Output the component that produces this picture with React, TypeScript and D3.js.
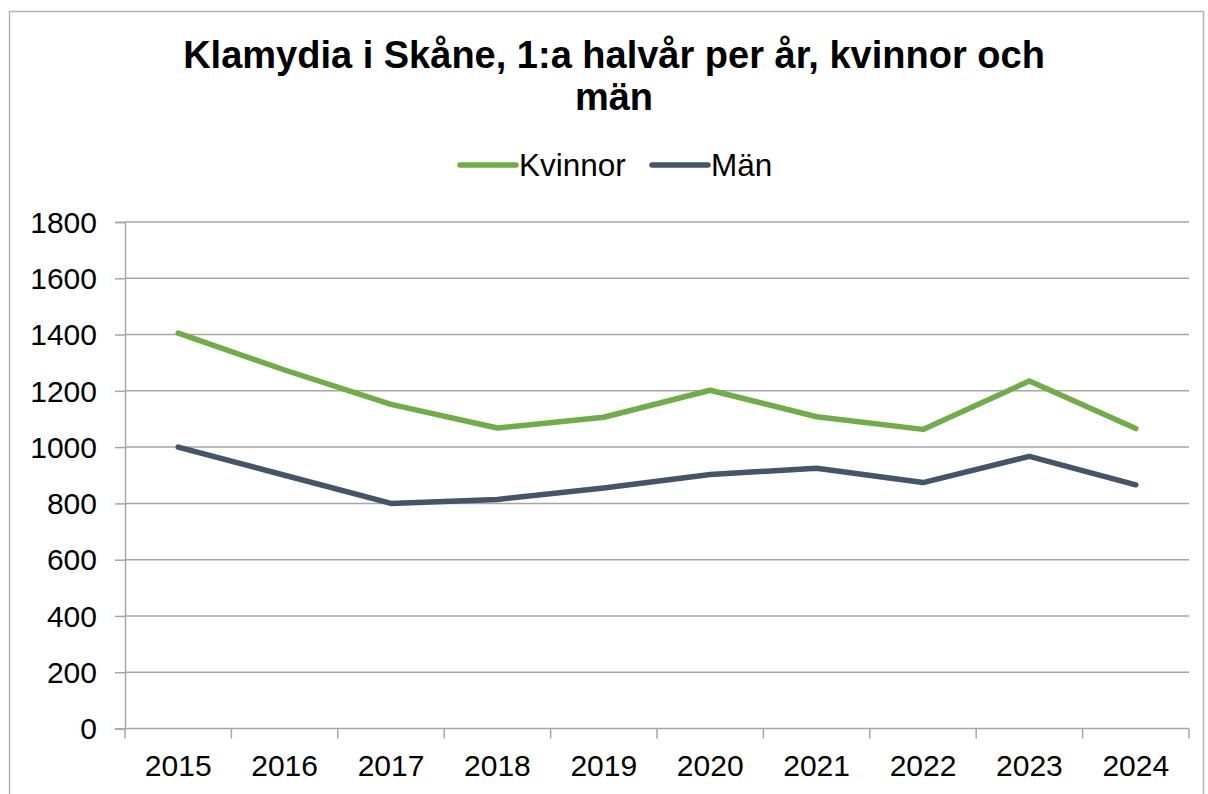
import { useEffect, useRef } from 'react';
import * as d3 from 'd3';

const years = ['2015', '2016', '2017', '2018', '2019', '2020', '2021', '2022', '2023', '2024'];
const kvinnor = [1405, 1274, 1152, 1068, 1106, 1202, 1108, 1063, 1235, 1066];
const man = [1000, 900, 800, 814, 855, 903, 925, 874, 967, 866];
const yTicks = [0, 200, 400, 600, 800, 1000, 1200, 1400, 1600, 1800];
const seriesNames = ['Kvinnor', 'Män'];
const seriesColors = ['#70ad47', '#44546a'];

export default function App() {
  const svgRef = useRef<SVGSVGElement>(null);

  useEffect(() => {
    if (!svgRef.current) return;
    const svg = d3.select(svgRef.current);
    svg.selectAll('*').remove();

    const font = 'Arial, "Liberation Sans", sans-serif';

    // outer chart frame
    svg.append('rect')
      .attr('x', 9.5).attr('y', 11.5)
      .attr('width', 1194).attr('height', 800)
      .attr('fill', '#fff')
      .attr('stroke', '#b3b3b3')
      .attr('stroke-width', 1.5);

    const xScale = d3.scaleBand().domain(years).range([125, 1189]);
    const yScale = d3.scaleLinear().domain([0, 1800]).range([728.5, 222]);

    // gridlines
    svg.append('g')
      .selectAll('line')
      .data(yTicks.filter(t => t > 0))
      .enter()
      .append('line')
      .attr('x1', 125).attr('x2', 1189)
      .attr('y1', d => yScale(d)).attr('y2', d => yScale(d))
      .attr('stroke', '#a6a6a6').attr('stroke-width', 1.5);

    // y axis
    const yAxis = svg.append('g')
      .attr('transform', 'translate(125,0)')
      .call(d3.axisLeft(yScale).tickValues(yTicks).tickSize(10).tickPadding(18).tickFormat(d => String(d)));
    yAxis.select('.domain').attr('stroke', '#a6a6a6').attr('stroke-width', 1.5);
    yAxis.selectAll('.tick line').attr('stroke', '#a6a6a6').attr('stroke-width', 1.5);
    yAxis.selectAll('.tick text')
      .attr('fill', '#000').attr('font-family', font).attr('font-size', 30)
      .attr('dy', '0.34em');

    // x axis
    const xAxis = svg.append('g')
      .attr('transform', `translate(0,${yScale(0)})`)
      .call(d3.axisBottom(xScale).tickSize(0).tickPadding(0));
    xAxis.select('.domain').remove();
    svg.append('line')
      .attr('x1', 125).attr('x2', 1189)
      .attr('y1', yScale(0)).attr('y2', yScale(0))
      .attr('stroke', '#a6a6a6').attr('stroke-width', 1.5);
    const edges = years.map(y => xScale(y) || 0).concat([1189]);
    svg.append('g')
      .selectAll('line')
      .data(edges)
      .enter()
      .append('line')
      .attr('x1', d => d).attr('x2', d => d)
      .attr('y1', yScale(0)).attr('y2', yScale(0) + 10)
      .attr('stroke', '#a6a6a6').attr('stroke-width', 1.5);
    xAxis.selectAll('.tick text')
      .attr('fill', '#000').attr('font-family', font).attr('font-size', 30)
      .attr('y', 47).attr('dy', 0);

    // lines
    const line = d3.line<number>()
      .x((_, i) => (xScale(years[i]) || 0) + xScale.bandwidth() / 2)
      .y(d => yScale(d));
    [kvinnor, man].forEach((data, i) => {
      svg.append('path')
        .datum(data)
        .attr('d', line)
        .attr('fill', 'none')
        .attr('stroke', seriesColors[i])
        .attr('stroke-width', 5.5)
        .attr('stroke-linejoin', 'round')
        .attr('stroke-linecap', 'round');
    });

    // title
    const title = svg.append('text')
      .attr('text-anchor', 'middle')
      .attr('font-family', font)
      .attr('font-weight', 'bold')
      .attr('font-size', 38)
      .attr('fill', '#000');
    title.append('tspan').attr('x', 614).attr('y', 68).text('Klamydia i Skåne, 1:a halvår per år, kvinnor och');
    title.append('tspan').attr('x', 614).attr('y', 110).text('män');

    // legend
    const legendX = [460, 652];
    seriesNames.forEach((name, i) => {
      const g = svg.append('g').attr('transform', `translate(${legendX[i]},165)`);
      g.append('line')
        .attr('x1', 0).attr('x2', 56)
        .attr('stroke', seriesColors[i]).attr('stroke-width', 5.5)
        .attr('stroke-linecap', 'round');
      g.append('text')
        .attr('x', 59).attr('y', 11)
        .attr('font-family', font).attr('font-size', 31.5)
        .attr('fill', '#000')
        .text(name);
    });
  }, []);

  return (
    <div style={{ position: 'absolute', left: 0, top: 0 }}>
      <svg ref={svgRef} width={1208} height={794} style={{ display: 'block' }} />
    </div>
  );
}
